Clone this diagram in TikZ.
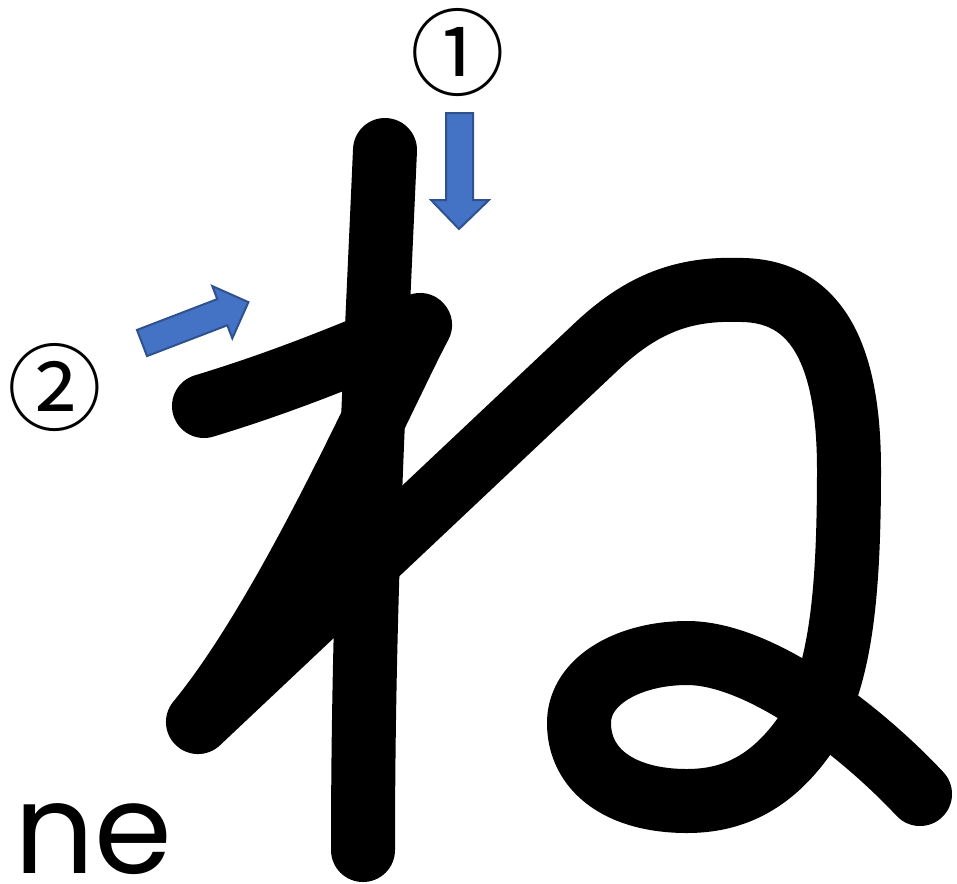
\documentclass[tikz,border=0pt]{standalone}
\usepackage{fontspec}
\setmainfont{Poppins}
\newfontfamily\circfont{Noto Sans CJK JP}
\usetikzlibrary{positioning}
\definecolor{arrow_blue}{HTML}{4472C4}
\definecolor{arrow_edge}{HTML}{2F528F}

\begin{document}
\begin{tikzpicture}[
                x=0.75pt, y=-0.75pt,
                kana/.style={line width=48pt, line cap=round, line join=round},
                blockarrow/.style={fill=arrow_blue, draw=arrow_edge, line width=1.5pt, line join=miter},
                stepnum/.style={inner sep=0pt, font=\circfont\fontsize{71}{71}\selectfont}
            ]
                \useasboundingbox (0,0) rectangle (957,883);

                % Strokes
                \draw [kana] (385,150) .. controls (374,400) and (363,600) .. (363,850);
                \draw [kana] (204,406) .. controls (290,380) and (360,350) .. (420,325)
                    .. controls (390,380) and (290,610) .. (198,722)
                    -- (597,346)
                    .. controls (647,299) and (690,288) .. (743,290)
                    .. controls (830,292) and (849,380) .. (849,470)
                    .. controls (849,600) and (840,680) .. (805,735)
                    .. controls (770,785) and (730,801) .. (687,801)
                    .. controls (620,801) and (579,770) .. (579,723)
                    .. controls (579,680) and (630,653) .. (687,653)
                    .. controls (760,653) and (860,730) .. (920,794);

                % Arrows
                \draw [blockarrow] (446,113) -- (473,113) -- (473,200) -- (489,200)
                    -- (459,229) -- (431,200) -- (446,200) -- cycle;
                \begin{scope}[shift={(142,343)}, rotate=21]
                    \draw [blockarrow] (0,-14) -- (86,-14) -- (86,-28) -- (114,0)
                        -- (86,28) -- (86,14) -- (0,14) -- cycle;
                \end{scope}

                % Labels
                \node (first) [stepnum] at (458,53) {①};
                \node (second) [stepnum] at (55,388) {②};
                \node (romaji) [inner sep=0pt, anchor=base west, font=\fontsize{94}{94}\selectfont] at (14,873) {ne};
            \end{tikzpicture}
\end{document}
